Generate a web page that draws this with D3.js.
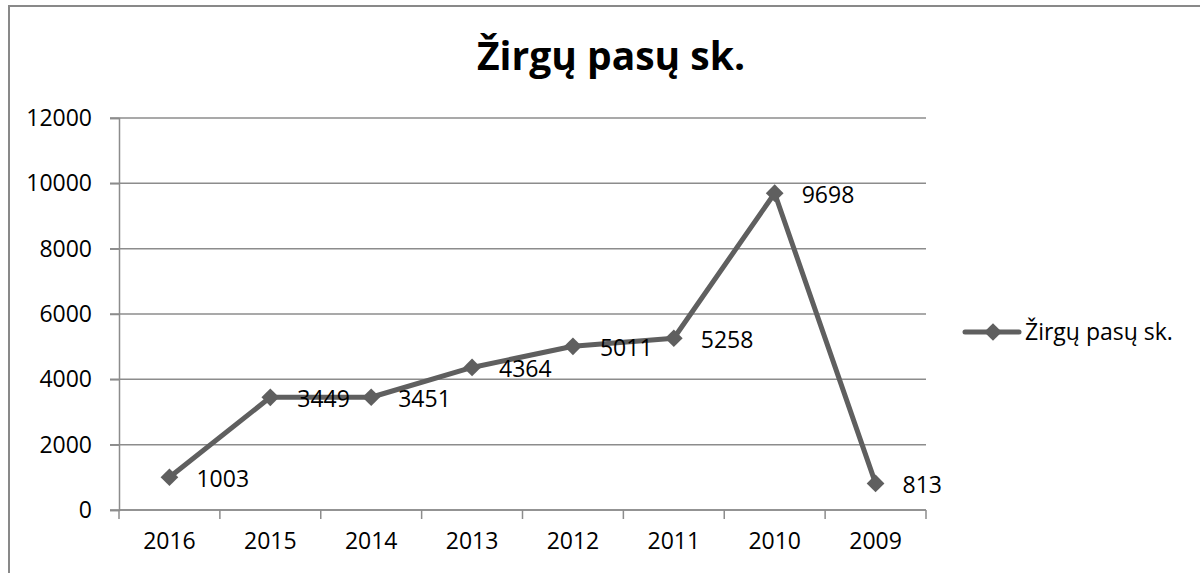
<!DOCTYPE html>
<meta charset="utf-8">
<style>
  body { margin: 0; background: #fff; }
  text { font-family: "Open Sans", "Noto Sans", sans-serif; fill: #000; }
</style>
<svg width="1200" height="573"></svg>
<script src="https://cdn.jsdelivr.net/npm/d3@7/dist/d3.min.js"></script>
<script>
// data
var years = ["2016", "2015", "2014", "2013", "2012", "2011", "2010", "2009"];
var counts = [1003, 3449, 3451, 4364, 5011, 5258, 9698, 813];
var yTicks = [0, 2000, 4000, 6000, 8000, 10000, 12000];
var seriesName = "Žirgų pasų sk.";

var svg = d3.select("svg");
var plotLeft = 119, plotRight = 926, plotTop = 118, plotBottom = 510;

// outer chart frame (right and bottom edges fall outside the picture)
svg.append("rect")
  .attr("x", 9).attr("y", 6).attr("width", 1210).attr("height", 600)
  .attr("fill", "none").attr("stroke", "#898989").attr("stroke-width", 2);

// title
svg.append("text")
  .attr("x", 611).attr("y", 70)
  .attr("text-anchor", "middle")
  .style("font-size", "39px").style("font-weight", "bold")
  .text(seriesName);

var x = d3.scaleBand().domain(years).range([plotLeft, plotRight]);
var y = d3.scaleLinear().domain([0, 12000]).range([plotBottom, plotTop]);

// gridlines
svg.append("g").selectAll("line")
  .data(yTicks).enter().append("line")
  .attr("x1", plotLeft - 9).attr("x2", plotRight)
  .attr("y1", function(d) { return y(d); })
  .attr("y2", function(d) { return y(d); })
  .attr("stroke", "#8c8c8c").attr("stroke-width", 1.5);

// y axis
var yAxis = svg.append("g")
  .attr("transform", "translate(" + plotLeft + ",0)")
  .call(d3.axisLeft(y).tickValues(yTicks).tickFormat(d3.format("d")).tickSize(9).tickPadding(18));
yAxis.select(".domain").attr("stroke", "#8c8c8c").attr("stroke-width", 1.5);
yAxis.selectAll(".tick line").attr("stroke", "#8c8c8c").attr("stroke-width", 1.5);
yAxis.selectAll("text").style("font-size", "23px").attr("fill", "#000")
  .style("font-family", "'Open Sans', sans-serif");

// x axis with ticks at band edges
var xAxis = svg.append("g")
  .attr("transform", "translate(0," + plotBottom + ")")
  .call(d3.axisBottom(x).tickSize(0).tickPadding(23));
xAxis.select(".domain").remove();
xAxis.selectAll("text").style("font-size", "23px").attr("fill", "#000")
  .style("font-family", "'Open Sans', sans-serif");
svg.append("line")
  .attr("x1", plotLeft).attr("x2", plotRight).attr("y1", plotBottom).attr("y2", plotBottom)
  .attr("stroke", "#8c8c8c").attr("stroke-width", 1.5);
svg.append("g").selectAll("line")
  .data(years.concat(["end"])).enter().append("line")
  .attr("x1", function(d, i) { return plotLeft + i * x.step(); })
  .attr("x2", function(d, i) { return plotLeft + i * x.step(); })
  .attr("y1", plotBottom).attr("y2", plotBottom + 9)
  .attr("stroke", "#8c8c8c").attr("stroke-width", 1.5);

// series line
var cx = function(d, i) { return x(years[i]) + x.bandwidth() / 2; };
var line = d3.line()
  .x(function(d, i) { return cx(d, i); })
  .y(function(d) { return y(d); });

svg.append("path")
  .datum(counts)
  .attr("d", line)
  .attr("fill", "none").attr("stroke", "#5f5f5f")
  .attr("stroke-width", 5).attr("stroke-linejoin", "round");

var diamond = d3.symbol().type(d3.symbolDiamond2).size(200);

svg.append("g").selectAll("path")
  .data(counts).enter().append("path")
  .attr("d", diamond)
  .attr("transform", function(d, i) { return "translate(" + cx(d, i) + "," + y(d) + ")"; })
  .attr("fill", "#5f5f5f");

// data labels
svg.append("g").selectAll("text")
  .data(counts).enter().append("text")
  .attr("x", function(d, i) { return cx(d, i) + 27; })
  .attr("y", function(d) { return y(d) + 2; })
  .attr("dy", "0.35em")
  .style("font-size", "23px")
  .text(function(d) { return d; });

// legend
var lg = svg.append("g").attr("transform", "translate(965,332)");
lg.append("line").attr("x1", 0).attr("x2", 54).attr("y1", 0).attr("y2", 0)
  .attr("stroke", "#5f5f5f").attr("stroke-width", 5).attr("stroke-linecap", "round");
lg.append("path").attr("d", diamond).attr("transform", "translate(28,0)").attr("fill", "#5f5f5f");
lg.append("text").attr("x", 60).attr("y", 0).attr("dy", "0.35em")
  .style("font-size", "23px").text(seriesName);
</script>
